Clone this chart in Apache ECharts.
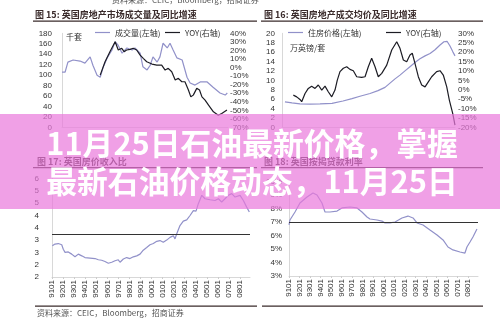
<!DOCTYPE html>
<html><head><meta charset="utf-8">
<script src="https://cdn.jsdelivr.net/npm/echarts@6/dist/echarts.min.js"></script>
<style>html,body{margin:0;padding:0;background:#fff}#c{width:500px;height:324px}</style>
</head><body><div id="c"></div>
<script>
// ---- Fig 15: UK housing transactions (thousand units, left) and YOY (right)
const volT = [2004.00,2004.09,2004.17,2004.32,2004.52,2004.66,2004.81,2004.89,2005.01,2005.10,2005.18,2005.30,2005.44,2005.53,2005.61,2005.73,2005.87,2006.02,2006.10,2006.25,2006.33,2006.45,2006.54,2006.62,2006.74,2006.82,2006.91,2007.03,2007.11,2007.20,2007.31,2007.46,2007.60,2007.69,2007.83,2007.98,2008.18,2008.35,2008.55,2008.70,2008.76];
const volV = [106,106,125,129,127,123,135,119,100,96,114,133,148,164,158,142,152,148,152,142,116,110,119,135,125,135,161,152,161,148,133,129,96,85,81,87,87,77,66,62,66];
const yoy15T = [2005.10,2005.24,2005.38,2005.53,2005.62,2005.72,2005.79,2005.86,2005.96,2006.05,2006.15,2006.25,2006.34,2006.44,2006.59,2006.73,2006.87,2006.97,2007.06,2007.16,2007.26,2007.35,2007.45,2007.54,2007.64,2007.71,2007.78,2007.88,2007.96,2008.03,2008.12,2008.22,2008.36,2008.50,2008.60,2008.75];
const yoy15V = [-8.8,6.8,18.5,30.2,20.5,22.5,18.5,20.5,21.3,22.5,20.5,14.6,10.8,6.8,4.1,2.9,2.9,-2.9,-0.9,-4.9,-14.6,-12.6,-16.6,-16.6,-26.3,-34.2,-32.2,-24.3,-26.3,-34.2,-38.0,-43.9,-51.7,-55.6,-53.6,-49.7];

// ---- Fig 16: UK average house price (10k GBP, left) and YOY (right)
const priceT = [1991.00,1991.73,1992.56,1993.61,1994.65,1995.90,1997.04,1997.98,1998.81,1999.86,2000.69,2001.42,2001.94,2002.46,2002.98,2003.50,2004.02,2004.54,2005.06,2005.59,2006.11,2006.63,2007.15,2007.56,2007.88,2008.19,2008.50,2008.71];
const priceV = [5.4,5.2,5.0,4.95,5.0,5.1,5.6,6.1,6.6,7.2,7.8,8.5,9.4,10.3,11.1,12.0,12.9,13.8,14.6,15.2,15.7,16.5,17.5,18.2,18.3,17.3,16.0,15.2];
const yoy16T = [1991.87,1992.22,1992.56,1992.74,1993.09,1993.43,1993.78,1994.13,1994.47,1994.83,1995.17,1995.51,1995.87,1996.21,1996.45,1996.73,1997.08,1997.43,1997.77,1998.12,1998.47,1998.99,1999.34,1999.68,2000.03,2000.38,2000.72,2001.08,2001.60,2002.12,2002.64,2002.98,2003.33,2003.68,2004.02,2004.26,2004.54,2004.89,2005.24,2005.59,2005.93,2006.28,2006.80,2007.15,2007.49,2007.85,2008.12,2008.47,2008.71];
const yoy16V = [-2.9,-3.8,-5.2,-6.4,-2.0,0.7,1.9,0.7,2.5,-0.2,1.9,-1.1,-3.8,-0.2,5.1,9.6,11.4,12.2,10.8,10.1,6.9,6.6,6.9,12.2,16.7,12.2,6.9,8.7,13.1,21.1,25.5,22.0,15.8,14.9,18.5,19.4,14.0,6.9,2.5,1.5,4.2,6.9,9.6,10.1,7.8,1.5,-5.5,-12.6,-18.9];

// ---- Fig 17: UK house price to income ratio
const ratioT = [1991.03,1991.27,1991.57,1991.88,1992.02,1992.18,1992.47,1992.78,1993.08,1993.38,1993.69,1993.98,1994.44,1994.89,1995.19,1995.49,1995.79,1996.09,1996.40,1996.70,1996.99,1997.15,1997.45,1997.75,1998.05,1998.35,1998.66,1998.96,1999.25,1999.56,1999.86,2000.16,2000.47,2000.76,2001.06,2001.37,2001.67,2001.97,2002.12,2002.27,2002.57,2002.87,2003.18,2003.48,2003.78,2004.02,2004.23,2004.54,2004.83,2005.29,2005.74,2006.04,2006.34,2006.64,2006.94,2007.25,2007.55,2008.00,2008.30,2008.60,2008.84];
const ratioV = [2.77,2.84,2.86,2.81,2.63,2.50,2.52,2.43,2.32,2.43,2.36,2.29,2.27,2.25,2.20,2.18,2.13,2.06,2.10,2.16,2.20,2.10,2.23,2.29,2.25,2.32,2.36,2.43,2.59,2.70,2.81,2.86,2.95,2.98,2.91,3.00,3.11,3.18,3.05,3.25,3.59,3.77,3.82,4.00,4.20,4.18,4.48,4.82,4.68,4.64,4.61,4.68,4.55,4.68,4.82,4.89,4.75,4.82,4.61,4.34,4.14];
const ratioAvg = 3.22;

// ---- Fig 18: UK mortgage rate (%)
const rateT = [1991.00,1991.09,1991.57,1992.04,1992.71,1993.28,1993.66,1994.13,1994.42,1994.89,1995.56,1996.03,1996.79,1997.46,1997.93,1998.41,1998.69,1999.36,1999.83,2000.12,2000.59,2001.07,2001.73,2002.30,2002.78,2003.16,2003.73,2004.39,2005.06,2005.63,2006.10,2006.57,2007.24,2007.71,2007.90,2008.19,2008.47,2008.85];
const rateV = [6.78,7.15,7.74,8.41,8.85,9.15,9.0,8.41,7.74,7.74,7.81,8.04,8.11,8.04,7.74,7.37,7.22,7.15,7.07,6.93,6.93,7.0,7.30,7.44,7.30,6.93,6.78,6.41,6.04,5.67,5.15,4.93,4.78,4.70,5.15,5.52,5.89,6.48];
const rateRef = 7;

const titles = ['图 15: 英国房地产市场成交量及同比增速','图 16: 英国房地产成交均价及同比增速','图 17: 英国房价收入比','图 18: 英国按揭贷款利率'];
const sourceText = '资料来源：CEIC，Bloomberg，招商证券';
const bannerLines = ['11月25日石油最新价格，掌握','最新石油价格动态，11月25日'];

const pairs = (t, v) => t.map((x, i) => [x, v[i]]);
const SANS = '"Liberation Sans", Arial, sans-serif';
const CJK = '"Noto Sans CJK SC", sans-serif';
const LIGHT = '#9191c9';
const DARK = '#1c1c24';
const RULE = '#3a2b2b';

const yearFmt = v => String(Math.round(v)).slice(2) + '01';
const hiddenX = (g, min, max) => ({type:'value', gridIndex:g, min, max, axisLine:{show:true, lineStyle:{color:'#ddd'}}, axisTick:{show:false}, axisLabel:{show:false}, splitLine:{show:false}});
const yearX = (g, max) => ({type:'value', gridIndex:g, min:1991, max, interval:1,
  axisLine:{show:true, lineStyle:{color:'#d8d8d8'}}, axisTick:{show:true, length:2, lineStyle:{color:'#ccc'}},
  splitLine:{show:false},
  axisLabel:{rotate:90, margin:3, fontSize:8, color:'#333', fontFamily:SANS, formatter:yearFmt, showMaxLabel:false}});
const yAx = (g, pos, min, max, interval, fmt, margin, line) => ({type:'value', gridIndex:g, position:pos, min, max, interval,
  axisLine:{show:!!line, lineStyle:{color:'#d8d8d8'}}, axisTick:{show:false}, splitLine:{show:false},
  axisLabel:{margin, fontSize:8, color:'#333', fontFamily:SANS, formatter:fmt}});

const lineS = (name, xi, yi, data, color, extra) => Object.assign({name, type:'line', xAxisIndex:xi, yAxisIndex:yi, data, symbol:'none', lineStyle:{color, width:1.2}, itemStyle:{color}, z:3}, extra||{});
const refLine = v => ({silent:true, symbol:['none','none'], label:{show:false}, lineStyle:{color:'#333', type:'solid', width:1.2}, data:[{yAxis:v}]});

const legendItem = (name, left) => ({data:[name], left, top:28.5, padding:0, icon:'rect', itemWidth:15, itemHeight:1.2,
  textStyle:{fontSize:8, color:'#333', fontFamily:CJK}, formatter: n => n.indexOf('YOY') === 0 ? 'YOY(右轴)' : n});

const txt = (text, x, y, font, fill, align) => ({type:'text', x, y, z:10,
  style:{text, font, fill, textAlign:align||'left', textVerticalAlign:'middle', align:align||'left', verticalAlign:'middle'}});
const bar = (x, y, w, h, fill, z) => ({type:'rect', shape:{x, y, width:w, height:h}, style:{fill}, z:z||10});
const bannerTxt = (text, y) => ({type:'text', x:252, y, z:101,
  style:{text, font:'bold 30.8px ' + CJK, fill:'#fff', textAlign:'center', textVerticalAlign:'middle', align:'center', verticalAlign:'middle',
    shadowColor:'rgba(90,40,80,0.35)', shadowBlur:2, shadowOffsetY:1}});

const chart = echarts.init(document.getElementById('c'), null, {renderer:'canvas', width:500, height:324});
chart.setOption({
  animation:false,
  backgroundColor:'#fff',
  grid:[
    {left:62, top:33.3, width:166, height:94.2},
    {left:282, top:33.3, width:173, height:94},
    {left:52, top:178.6, width:198, height:98.4},
    {left:289, top:181.5, width:189, height:94.5}
  ],
  xAxis:[
    hiddenX(0, 2004, 2008.78),
    hiddenX(1, 1990.69, 2008.71),
    yearX(2, 2008.9),
    yearX(3, 2008.95)
  ],
  yAxis:[
    yAx(0,'left',0,180,20,'{value}',10,true),
    yAx(0,'right',-70,40,10,'{value}%',2,false),
    yAx(1,'left',0,20,2,'{value}',7,true),
    yAx(1,'right',-20,30,5,'{value}%',3,false),
    yAx(2,'left',1.5,5.5,0.5,v => String(Math.round(v)),13,true),
    yAx(3,'left',3,10,1,'{value}%',7,true)
  ],
  legend:[
    legendItem('成交量(左轴)', 95),
    legendItem('YOY15', 165),
    legendItem('住房价格(左轴)', 288),
    legendItem('YOY16', 386)
  ],
  series:[
    lineS('成交量(左轴)', 0, 0, pairs(volT, volV), LIGHT),
    lineS('YOY15', 0, 1, pairs(yoy15T, yoy15V), DARK),
    lineS('住房价格(左轴)', 1, 2, pairs(priceT, priceV), LIGHT),
    lineS('YOY16', 1, 3, pairs(yoy16T, yoy16V), DARK),
    lineS('房价收入比', 2, 4, pairs(ratioT, ratioV), LIGHT, {markLine:refLine(ratioAvg)}),
    lineS('按揭贷款利率', 3, 5, pairs(rateT, rateV), LIGHT, {markLine:refLine(rateRef)})
  ],
  graphic:[
    txt(sourceText, 112, -0.5, '8px ' + CJK, '#555'),
    txt(titles[0], 35, 15, 'bold 9px ' + CJK, RULE),
    txt(titles[1], 264, 15, 'bold 9px ' + CJK, RULE),
    bar(33, 20.5, 224, 1.3, RULE),
    bar(261, 20.5, 222, 1.3, RULE),
    txt('千套', 66, 37, '8px ' + CJK, '#333'),
    txt('万英镑/套', 290, 48, '8px ' + CJK, '#333'),
    txt(titles[2], 37, 162, 'bold 9px ' + CJK, RULE),
    txt(titles[3], 264, 162, 'bold 9px ' + CJK, RULE),
    bar(33, 167, 224, 1.3, RULE),
    bar(261, 167, 222, 1.3, RULE),
    bar(35, 305.5, 222, 1.2, RULE),
    bar(262, 305.5, 221, 1.2, RULE),
    txt(sourceText, 37, 313, '8px ' + CJK, '#555'),
    bar(0, 114, 500, 95, 'rgba(234,119,219,0.7)', 100),
    bannerTxt(bannerLines[0], 143),
    bannerTxt(bannerLines[1], 181)
  ]
});
</script></body></html>
